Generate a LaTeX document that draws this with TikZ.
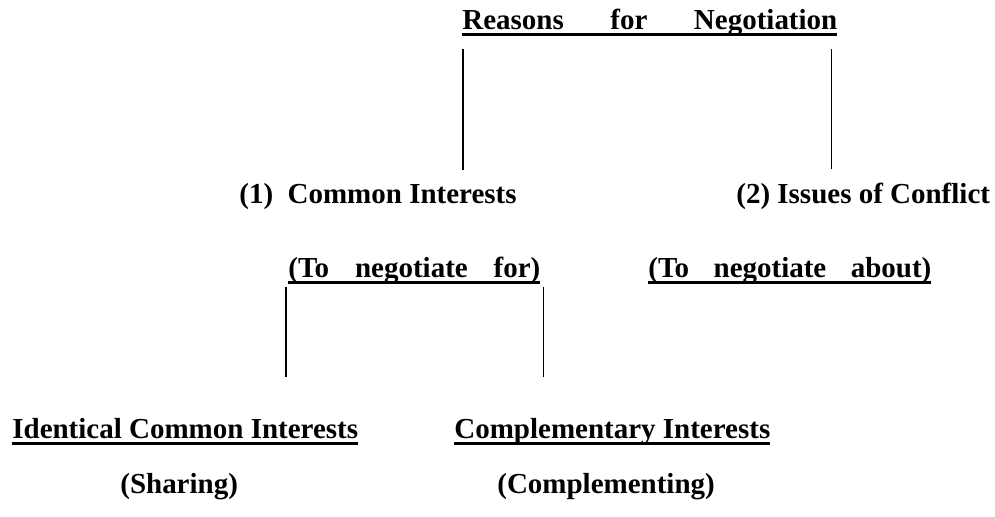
\documentclass[tikz,border=0pt]{standalone}
\usepackage{fontspec}
\setmainfont{Liberation Serif}
\usepackage{pgf, tikz}

\newcommand{\undl}[1]{\vtop{\hbox{\raisebox{0pt}[\height][0pt]{#1}}\kern2pt\hrule height1.7pt}}

\tikzset{
  lbl/.style={font=\fontsize{16.5}{20}\selectfont\bfseries, inner sep=0pt, anchor=base west},
  link/.style={line width=0.85pt}
}

\begin{document}
\begin{tikzpicture}
\useasboundingbox (0,0) rectangle (19.9,10.32);
\node[lbl] (reasons) at (9.24,9.74) 
  {\undl{\hbox to 7.5cm{Reasons\hfill for\hfill Negotiation}}};
\node[lbl] (common) at (4.78,6.26) 
  {(1)\ \ Common Interests};
\node[lbl] (conflict) at (14.72,6.26) 
  {(2) Issues of Conflict};
\node[lbl] (negfor) at (5.76,4.78) 
  {\undl{\hbox to 5.04cm{(To\hfill negotiate\hfill for)}}};
\node[lbl] (negabout) at (12.96,4.78) 
  {\undl{\hbox to 5.66cm{(To\hfill negotiate\hfill about)}}};
\node[lbl] (identical) at (0.24,1.56) 
  {\undl{Identical Common Interests}};
\node[lbl] (complementary) at (9.08,1.56) 
  {\undl{Complementary Interests}};
\node[lbl] (sharing) at (2.4,0.46) 
  {(Sharing)};
\node[lbl] (complementing) at (9.94,0.46) 
  {(Complementing)};

\draw[link] ([shift={(0.02,-0.27)}]reasons.south west) 
  -- ([shift={(0.02,0.26)}]reasons.south west |- common.north);
\draw[link] ([shift={(-0.12,-0.27)}]reasons.south east) 
  -- ([shift={(-0.12,0.26)}]reasons.south east |- conflict.north);
\draw[link] ([shift={(-0.04,-0.07)}]negfor.south west) 
  -- ([shift={(-0.04,0.82)}]negfor.south west |- identical.north);
\draw[link] ([shift={(0.06,-0.07)}]negfor.south east) 
  -- ([shift={(0.06,0.82)}]negfor.south east |- complementary.north);
\end{tikzpicture}
\end{document}
